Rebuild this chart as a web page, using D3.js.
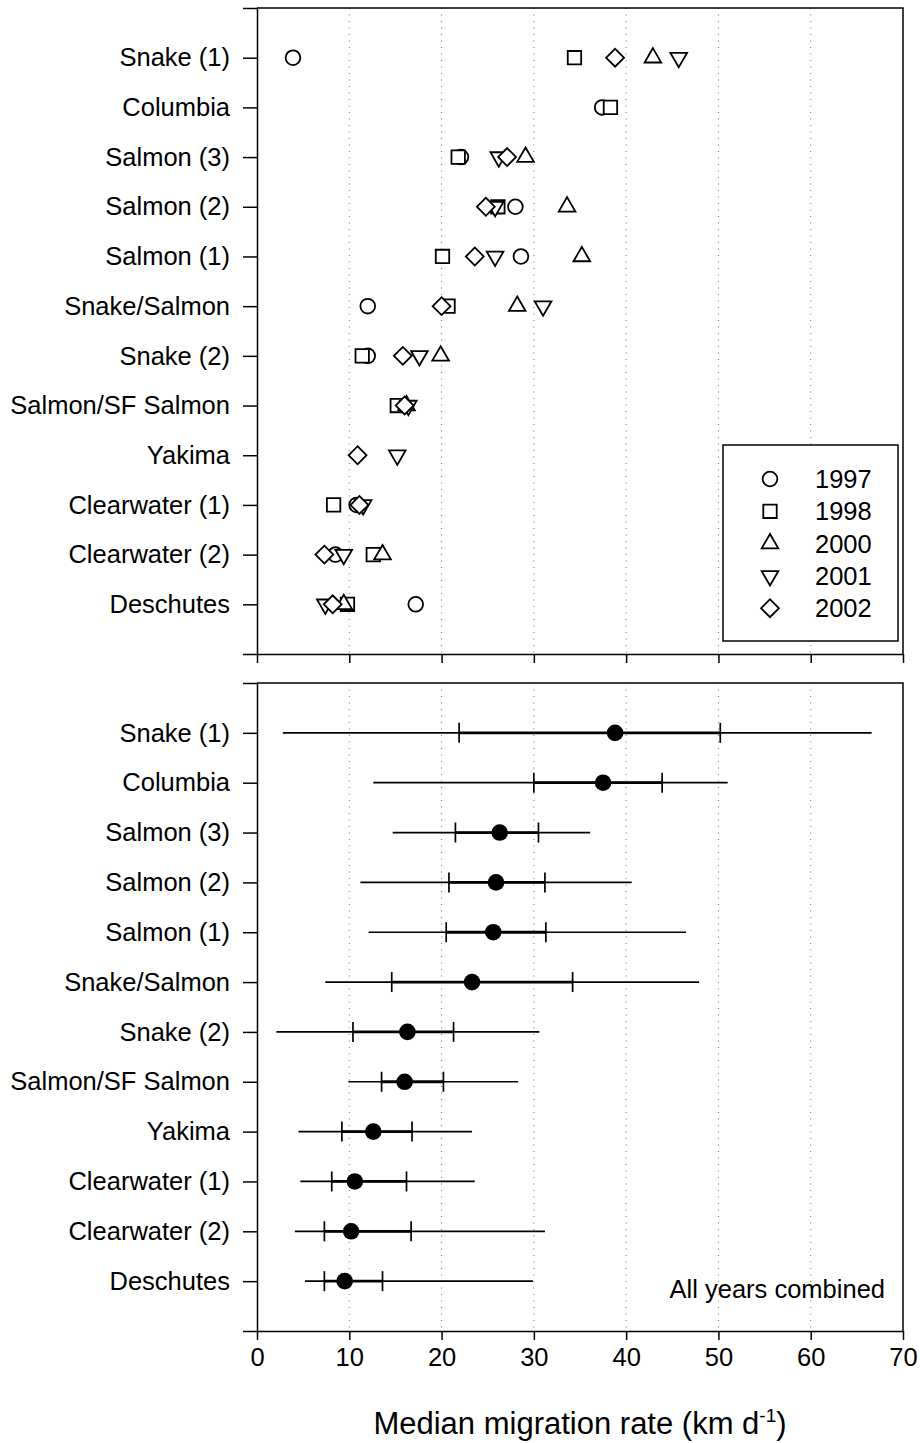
<!DOCTYPE html>
<html>
<head>
<meta charset="utf-8">
<script src="https://cdn.jsdelivr.net/npm/d3@7"></script>
<style>
  body { margin: 0; background: #fff; }
  svg { display: block; }
</style>
</head>
<body>
<div id="chart"></div>
<script>
// categories, top to bottom
const categories = ["Snake (1)", "Columbia", "Salmon (3)", "Salmon (2)", "Salmon (1)",
  "Snake/Salmon", "Snake (2)", "Salmon/SF Salmon", "Yakima", "Clearwater (1)",
  "Clearwater (2)", "Deschutes"];

const years = ["1997", "1998", "2000", "2001", "2002"];

// median migration rate by year (null = no data)
const rate1997 = [3.9, 37.4, 22.1, 28.0, 28.6, 12.0, 12.0, null, null, 10.8, 8.5, 17.2];
const rate1998 = [34.4, 38.3, 21.8, 26.1, 20.1, 20.7, 11.4, 15.2, null, 8.3, 12.6, 9.8];
const rate2000 = [42.9, null, 29.1, 33.6, 35.2, 28.2, 19.9, 16.2, null, null, 13.6, 9.4];
const rate2001 = [45.7, null, 26.2, 25.8, 25.8, 31.0, 17.6, 16.4, 15.2, 11.5, 9.4, 7.4];
const rate2002 = [38.8, null, 27.1, 24.8, 23.6, 20.0, 15.8, 16.0, 10.9, 11.1, 7.3, 8.2];

// all years combined
const combMin = [2.8, 12.6, 14.7, 11.2, 12.1, 7.4, 2.1, 9.9, 4.5, 4.7, 4.1, 5.2];
const combLow = [21.9, 30.0, 21.5, 20.8, 20.5, 14.6, 10.4, 13.5, 9.2, 8.1, 7.3, 7.3];
const combMedian = [38.8, 37.5, 26.3, 25.9, 25.6, 23.3, 16.3, 16.0, 12.6, 10.6, 10.2, 9.5];
const combHigh = [50.2, 43.9, 30.5, 31.2, 31.3, 34.2, 21.3, 20.2, 16.8, 16.2, 16.7, 13.6];
const combMax = [66.6, 51.0, 36.1, 40.6, 46.5, 47.9, 30.6, 28.3, 23.3, 23.6, 31.2, 29.9];

const xTicks = [0, 10, 20, 30, 40, 50, 60, 70];
const gridTicks = [10, 20, 30, 40, 50, 60];

const FONT = "'Liberation Sans', Arial, sans-serif";
const width = 920, height = 1443;

const svg = d3.select("#chart").append("svg")
  .attr("width", width)
  .attr("height", height)
  .style("background", "#fff");

const x = d3.scaleLinear().domain([0, 70]).range([257, 903]);

// marker shapes per year
const sym = {
  "1997": { type: d3.symbolCircle, size: 170, rot: 0 },
  "1998": { type: d3.symbolSquare, size: 180, rot: 0 },
  "2000": { type: d3.symbolTriangle, size: 120, rot: 0 },
  "2001": { type: d3.symbolTriangle, size: 120, rot: 180 },
  "2002": { type: d3.symbolSquare, size: 160, rot: 45 }
};
const seriesByYear = { "1997": rate1997, "1998": rate1998, "2000": rate2000, "2001": rate2001, "2002": rate2002 };

//draws frame, grid and axes for a panel, returns the y scale
function panel(top, bottom, showLabels) {
  const y = d3.scalePoint().domain(categories).range([top, bottom]).padding(1);

  svg.append("g").selectAll("line")
    .data(gridTicks)
    .join("line")
    .attr("x1", d => x(d)).attr("x2", d => x(d))
    .attr("y1", top).attr("y2", bottom)
    .attr("stroke", "#777")
    .attr("stroke-width", 1)
    .attr("stroke-dasharray", "1,5.5");

  // top and right border
  svg.append("path")
    .attr("d", `M${x(0)},${top}H${x(70)}V${bottom}`)
    .attr("fill", "none")
    .attr("stroke", "#000")
    .attr("stroke-width", 1.5);

  const yAxis = svg.append("g")
    .attr("transform", `translate(${x(0)},0)`)
    .call(d3.axisLeft(y).tickSizeInner(14).tickSizeOuter(14).tickPadding(13));

  const xAxis = svg.append("g")
    .attr("transform", `translate(0,${bottom})`)
    .call(d3.axisBottom(x).tickValues(xTicks).tickSizeInner(9).tickSizeOuter(0)
      .tickPadding(8).tickFormat(showLabels ? d3.format("d") : ""));

  [yAxis, xAxis].forEach(a => {
    a.attr("font-family", FONT).attr("font-size", 25.5);
    a.selectAll("path, line").attr("stroke-width", 1.5);
    a.selectAll("text").attr("fill", "#000");
  });
  return y;
}

// ---- top panel: each year ----
const yTop = panel(8, 654, false);

years.forEach(yr => {
  const s = sym[yr];
  const pts = seriesByYear[yr]
    .map((v, i) => ({ v: v, c: categories[i] }))
    .filter(d => d.v !== null);
  svg.append("g").selectAll("path")
    .data(pts)
    .join("path")
    .attr("d", d3.symbol().type(s.type).size(s.size))
    .attr("transform", d => `translate(${x(d.v)},${yTop(d.c)}) rotate(${s.rot})`)
    .attr("fill", "#fff")
    .attr("stroke", "#000")
    .attr("stroke-width", 1.8);
});

// legend
const legend = svg.append("g");
legend.append("rect")
  .attr("x", 723).attr("y", 445)
  .attr("width", 175).attr("height", 196)
  .attr("fill", "#fff")
  .attr("stroke", "#000")
  .attr("stroke-width", 1.5);

years.forEach((yr, i) => {
  const s = sym[yr];
  const ly = 479 + i * 32.3;
  legend.append("path")
    .attr("d", d3.symbol().type(s.type).size(s.size)())
    .attr("transform", `translate(770,${ly}) rotate(${s.rot})`)
    .attr("fill", "#fff")
    .attr("stroke", "#000")
    .attr("stroke-width", 1.8);
  legend.append("text")
    .attr("x", 815).attr("y", ly)
    .attr("dy", "0.35em")
    .attr("font-family", FONT)
    .attr("font-size", 25.5)
    .text(yr);
});

// ---- bottom panel: all years combined ----
const yBot = panel(683, 1331, true);

const comb = categories.map((c, i) => ({
  c: c, min: combMin[i], lo: combLow[i], med: combMedian[i], hi: combHigh[i], max: combMax[i]
}));

const bars = svg.append("g").selectAll("g")
  .data(comb)
  .join("g");

bars.append("line")
  .attr("x1", d => x(d.min)).attr("x2", d => x(d.max))
  .attr("y1", d => yBot(d.c)).attr("y2", d => yBot(d.c))
  .attr("stroke", "#000").attr("stroke-width", 1.7);

bars.append("line")
  .attr("x1", d => x(d.lo)).attr("x2", d => x(d.hi))
  .attr("y1", d => yBot(d.c)).attr("y2", d => yBot(d.c))
  .attr("stroke", "#000").attr("stroke-width", 2.8);

["lo", "hi"].forEach(k => {
  bars.append("line")
    .attr("x1", d => x(d[k])).attr("x2", d => x(d[k]))
    .attr("y1", d => yBot(d.c) - 10).attr("y2", d => yBot(d.c) + 10)
    .attr("stroke", "#000").attr("stroke-width", 1.7);
});

bars.append("circle")
  .attr("cx", d => x(d.med))
  .attr("cy", d => yBot(d.c))
  .attr("r", 8.3)
  .attr("fill", "#000");

svg.append("text")
  .attr("x", 885).attr("y", 1298)
  .attr("text-anchor", "end")
  .attr("font-family", FONT)
  .attr("font-size", 25.5)
  .text("All years combined");

// x axis title
const title = svg.append("text")
  .attr("x", (x(0) + x(70)) / 2)
  .attr("y", 1434)
  .attr("text-anchor", "middle")
  .attr("font-family", FONT)
  .attr("font-size", 31);
title.append("tspan").text("Median migration rate (km d");
title.append("tspan").attr("font-size", 19).attr("dy", -12).text("-1");
title.append("tspan").attr("dy", 12).text(")");
</script>
</body>
</html>
